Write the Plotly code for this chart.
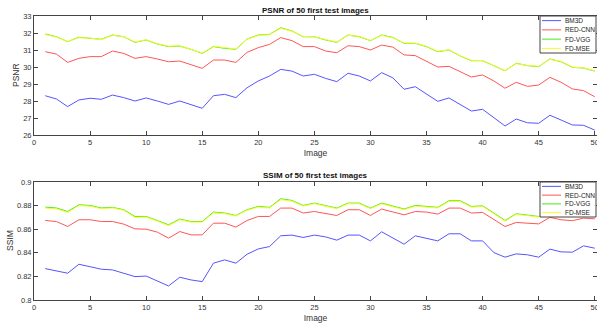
import plotly.graph_objects as go
from plotly.subplots import make_subplots

images = list(range(1, 51))

psnr_bm3d = [28.31, 28.12, 27.67, 28.06, 28.16, 28.10, 28.35, 28.20, 28.00, 28.18,
             28.00, 27.80, 28.00, 27.78, 27.57, 28.31, 28.39, 28.20, 28.78, 29.18,
             29.47, 29.86, 29.76, 29.47, 29.57, 29.33, 29.14, 29.63, 29.47, 29.18,
             29.67, 29.36, 28.69, 28.84, 28.41, 27.98, 28.18, 27.80, 27.41, 27.51,
             27.00, 26.53, 26.94, 26.72, 26.69, 27.16, 26.88, 26.59, 26.57, 26.29]
psnr_red = [30.90, 30.76, 30.27, 30.51, 30.61, 30.61, 30.94, 30.80, 30.51, 30.61,
            30.47, 30.31, 30.35, 30.12, 29.92, 30.41, 30.41, 30.27, 30.86, 31.14,
            31.33, 31.73, 31.55, 31.20, 31.20, 30.94, 30.84, 31.25, 31.20, 31.00,
            31.29, 31.17, 30.71, 30.67, 30.35, 30.00, 30.04, 29.72, 29.41, 29.53,
            29.18, 28.75, 29.10, 28.86, 28.94, 29.39, 29.10, 28.71, 28.61, 28.25]
psnr_vgg = [31.94, 31.78, 31.49, 31.75, 31.69, 31.63, 31.88, 31.78, 31.45, 31.59,
            31.35, 31.20, 31.23, 31.04, 30.80, 31.20, 31.10, 31.04, 31.65, 31.88,
            31.92, 32.31, 32.12, 31.78, 31.78, 31.59, 31.45, 31.88, 31.78, 31.55,
            31.88, 31.74, 31.39, 31.39, 31.20, 30.90, 31.00, 30.65, 30.37, 30.37,
            30.08, 29.78, 30.22, 30.08, 30.02, 30.47, 30.31, 29.98, 29.94, 29.76]
psnr_mse = [31.91, 31.76, 31.50, 31.72, 31.70, 31.61, 31.86, 31.79, 31.47, 31.60,
            31.37, 31.22, 31.25, 31.02, 30.82, 31.22, 31.12, 31.06, 31.63, 31.86,
            31.90, 32.28, 32.10, 31.80, 31.77, 31.61, 31.46, 31.86, 31.80, 31.56,
            31.86, 31.72, 31.41, 31.40, 31.22, 30.92, 31.01, 30.66, 30.39, 30.38,
            30.10, 29.79, 30.20, 30.09, 30.04, 30.45, 30.33, 29.99, 29.95, 29.78]

ssim_bm3d = [0.8266, 0.8246, 0.8227, 0.8303, 0.8283, 0.8261, 0.8255, 0.8227, 0.8198, 0.8203,
             0.8161, 0.8119, 0.8193, 0.8170, 0.8156, 0.8312, 0.8340, 0.8312, 0.8388, 0.8433,
             0.8453, 0.8544, 0.8550, 0.8530, 0.8550, 0.8535, 0.8507, 0.8550, 0.8550, 0.8501,
             0.8578, 0.8522, 0.8473, 0.8544, 0.8524, 0.8501, 0.8561, 0.8561, 0.8501, 0.8501,
             0.8402, 0.8363, 0.8391, 0.8383, 0.8363, 0.8431, 0.8408, 0.8405, 0.8459, 0.8439]
ssim_red = [0.8674, 0.8665, 0.8623, 0.8680, 0.8680, 0.8665, 0.8665, 0.8643, 0.8603, 0.8600,
            0.8575, 0.8524, 0.8580, 0.8552, 0.8552, 0.8651, 0.8651, 0.8618, 0.8674, 0.8708,
            0.8708, 0.8779, 0.8779, 0.8737, 0.8750, 0.8731, 0.8716, 0.8765, 0.8765, 0.8716,
            0.8771, 0.8746, 0.8722, 0.8750, 0.8745, 0.8728, 0.8779, 0.8779, 0.8737, 0.8742,
            0.8680, 0.8623, 0.8657, 0.8651, 0.8645, 0.8700, 0.8680, 0.8672, 0.8694, 0.8688]
ssim_vgg = [0.8787, 0.8780, 0.8750, 0.8807, 0.8801, 0.8780, 0.8785, 0.8765, 0.8708, 0.8708,
            0.8674, 0.8637, 0.8686, 0.8665, 0.8665, 0.8745, 0.8737, 0.8716, 0.8765, 0.8793,
            0.8785, 0.8858, 0.8844, 0.8801, 0.8821, 0.8798, 0.8779, 0.8821, 0.8821, 0.8779,
            0.8821, 0.8796, 0.8771, 0.8801, 0.8793, 0.8785, 0.8841, 0.8841, 0.8793, 0.8798,
            0.8737, 0.8674, 0.8731, 0.8722, 0.8708, 0.8750, 0.8738, 0.8712, 0.8730, 0.8718]
ssim_mse = [0.8779, 0.8772, 0.8742, 0.8800, 0.8795, 0.8774, 0.8780, 0.8760, 0.8700, 0.8703,
            0.8668, 0.8630, 0.8680, 0.8660, 0.8660, 0.8738, 0.8732, 0.8712, 0.8760, 0.8787,
            0.8780, 0.8850, 0.8838, 0.8796, 0.8816, 0.8792, 0.8774, 0.8816, 0.8816, 0.8774,
            0.8815, 0.8790, 0.8766, 0.8795, 0.8788, 0.8780, 0.8835, 0.8835, 0.8787, 0.8793,
            0.8731, 0.8668, 0.8726, 0.8717, 0.8703, 0.8744, 0.8733, 0.8707, 0.8725, 0.8713]

names = ["BM3D", "RED-CNN", "FD-VGG", "FD-MSE"]
colors = ["rgb(85,85,255)", "rgb(255,85,85)", "rgb(70,235,20)", "rgb(250,250,40)"]

titles = ["PSNR of 50 first test images", "SSIM of 50 first test images"]
y_titles = ["PSNR", "SSIM"]
x_ticks = [0, 5, 10, 15, 20, 25, 30, 35, 40, 45, 50]
psnr_ticks = [26, 27, 28, 29, 30, 31, 32, 33]
ssim_ticks = [0.8, 0.82, 0.84, 0.86, 0.88, 0.9]

FONT = "Arial, Liberation Sans, Helvetica, sans-serif"
W, H = 597, 325
ML, MR, MT, MB = 34, 0, 16, 25
PW, PH = W - ML - MR, H - MT - MB


def px(x):
    return (x - ML) / PW


def py(y):
    return (H - MB - y) / PH


TOP_DOM = [py(135), 1.0]
BOT_DOM = [0.0, py(182)]

fig = make_subplots(rows=2, cols=1)

for series, nm, col in zip([psnr_bm3d, psnr_red, psnr_vgg, psnr_mse], names, colors):
    fig.add_trace(go.Scatter(x=images, y=series, name=nm, mode="lines",
                             line=dict(color=col, width=1), showlegend=False), row=1, col=1)
for series, nm, col in zip([ssim_bm3d, ssim_red, ssim_vgg, ssim_mse], names, colors):
    fig.add_trace(go.Scatter(x=images, y=series, name=nm, mode="lines",
                             line=dict(color=col, width=1), showlegend=False), row=2, col=1)

axis_style = dict(showline=True, linecolor="#444", linewidth=1, mirror="ticks",
                  ticks="inside", ticklen=4, tickcolor="#444", showgrid=False,
                  zeroline=False, ticklabeloverflow="allow",
                  tickfont=dict(size=7.5, color="#333", family=FONT))

fig.update_xaxes(range=[0, 50.2], tickvals=x_ticks, **axis_style)
fig.update_xaxes(title=dict(text="Image", font=dict(size=8.5, color="#333", family=FONT), standoff=4))
fig.update_yaxes(range=[26, 33], tickvals=psnr_ticks, row=1, col=1, **axis_style)
fig.update_yaxes(range=[0.8, 0.9], tickvals=ssim_ticks, row=2, col=1, **axis_style)

fig.update_layout(
    xaxis=dict(domain=[0, 1]), xaxis2=dict(domain=[0, 1]),
    yaxis=dict(domain=TOP_DOM), yaxis2=dict(domain=BOT_DOM),
)

# y-axis titles
for i, t in enumerate(y_titles):
    dom = [TOP_DOM, BOT_DOM][i]
    fig.add_annotation(text=t, xref="paper", yref="paper", x=px([15.5, 10][i]),
                       y=(dom[0] + dom[1]) / 2, textangle=-90, showarrow=False,
                       xanchor="center", yanchor="middle",
                       font=dict(size=8.5, color="#333", family=FONT))

# Manual legends (box + line samples + labels), one per subplot
legend_boxes = [(540, 16, 596, 53), (540, 182, 596, 217)]
for (x0, y0, x1, y1) in legend_boxes:
    fig.add_shape(type="rect", xref="paper", yref="paper",
                  x0=px(x0), x1=px(x1), y0=py(y0), y1=py(y1),
                  line=dict(color="#444", width=1), fillcolor="white", layer="above")
    step = (y1 - y0) / 4.0
    for k, (nm, col) in enumerate(zip(names, colors)):
        yc = y0 + step * (k + 0.5)
        fig.add_shape(type="line", xref="paper", yref="paper",
                      x0=px(x0 + 2), x1=px(x0 + 21), y0=py(yc), y1=py(yc),
                      line=dict(color=col, width=1), layer="above")
        fig.add_annotation(text=nm, xref="paper", yref="paper", x=px(x0 + 23), y=py(yc),
                           xanchor="left", yanchor="middle", showarrow=False,
                           font=dict(size=6.5, color="#222", family=FONT))

for i, t in enumerate(titles):
    fig.add_annotation(text="<b>" + t + "</b>", xref="paper", yref="paper",
                       x=px(315), y=py([10, 175.5][i]), yanchor="middle",
                       showarrow=False, font=dict(size=8, color="#111", family=FONT))

fig.update_layout(
    width=W, height=H,
    margin=dict(l=ML, r=MR, t=MT, b=MB, autoexpand=False),
    paper_bgcolor="white", plot_bgcolor="white",
    font=dict(family=FONT),
)

fig.write_html("out.html", config={"displayModeBar": False},
               post_script="document.body.style.margin='0';document.body.style.overflow='hidden';")
